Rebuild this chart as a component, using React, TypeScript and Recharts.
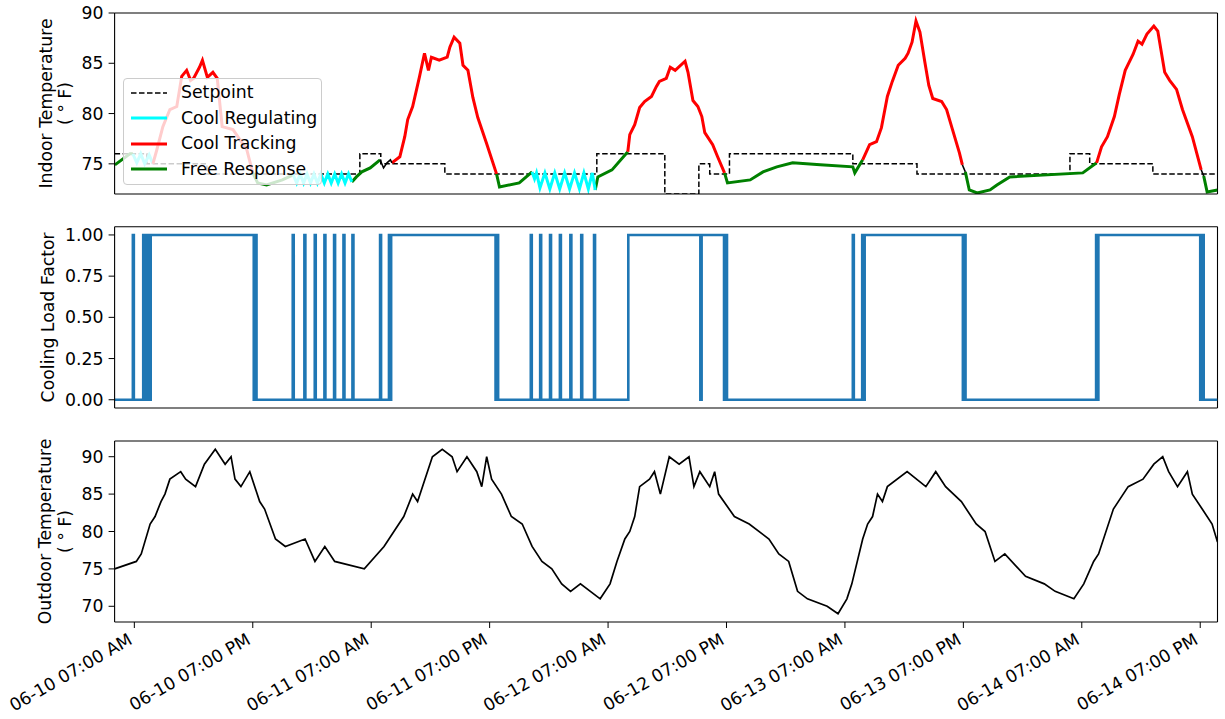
import { LineChart, Line, XAxis, YAxis, Legend, ReferenceLine } from "recharts";

const FONT = '"DejaVu Sans", sans-serif';
const FS = 17.3;

// hours since 06-10 00:00
const X_DOMAIN = [5, 116.75];
const X_TICKS = [7, 19, 31, 43, 55, 67, 79, 91, 103, 115];

const setpoint = [
  [5, 76], [8.27, 75], [14.35, 74], [29.85, 76], [31.97, 75], [38.46, 74], [53.86, 76],
  [60.75, 72], [64.2, 75], [65.3, 74], [67.3, 76], [79.8, 75], [86.3, 74], [101.8, 76],
  [103.8, 75], [110.2, 74], [116.75, 74],
];

// indoor temperature, split by mode
const free1 = [[5.03, 74.9], [6.55, 76.0], [6.85, 76.0]];
const free2 = [[19.0, 74.1], [19.5, 73.1], [20.4, 72.9], [22.0, 73.4], [23.1, 73.9]];
const free3 = [[29.04, 73.2], [29.5, 73.7], [30.05, 74.2], [30.9, 74.6], [31.9, 75.4]];
const free4 = [[43.7, 74.0], [44.0, 72.7], [46.0, 73.1], [47.3, 74.2]];
const free5 = [[53.7, 72.4], [53.96, 73.7], [55.4, 74.4], [57.0, 76.2]];
const free6 = [
  [66.8, 74.1], [67.1, 73.1], [69.4, 73.4], [70.7, 74.2], [72.1, 74.7], [73.7, 75.1],
  [76.5, 74.9], [79.8, 74.7], [80.0, 74.1], [80.8, 75.4],
];
const free7 = [
  [91.2, 74.2], [91.6, 72.4], [92.4, 72.1], [93.7, 72.4], [94.4, 72.9], [95.7, 73.7],
  [103.1, 74.1], [104.5, 75.1],
];
const free8 = [[115.35, 73.8], [115.7, 72.2], [116.75, 72.4]];

const reg1 = [[6.85, 76.0], [7.25, 75.1], [7.65, 76.0], [8.05, 75.0], [8.5, 75.9], [8.88, 75.0]];
const reg2 = [
  [23.1, 73.9], [23.45, 73.1], [23.8, 74.0], [24.15, 73.1], [24.5, 74.0], [24.85, 73.1],
  [25.2, 74.0], [25.55, 73.1], [25.9, 74.0], [26.25, 73.1], [26.6, 74.0], [26.95, 73.1],
  [27.3, 74.0], [27.65, 73.1], [28.0, 74.0], [28.35, 73.1], [28.7, 74.0], [29.04, 73.2],
];
const reg3 = [
  [47.3, 74.2], [47.55, 73.5], [47.75, 74.1], [48.1, 72.6], [48.6, 74.1], [49.1, 72.5],
  [49.6, 74.1], [50.1, 72.5], [50.6, 74.1], [51.1, 72.5], [51.6, 74.1], [52.1, 72.5],
  [52.55, 74.1], [53.0, 72.5], [53.4, 74.1], [53.7, 72.4],
];

const track1 = [
  [8.88, 75.0], [9.28, 76.4], [9.89, 78.7], [10.6, 80.4], [11.3, 80.7], [11.8, 83.7],
  [12.3, 84.3], [12.7, 83.3], [13.0, 83.5], [13.6, 84.6], [13.9, 85.3], [14.4, 83.6],
  [14.96, 84.1], [15.4, 83.5], [15.9, 78.7], [17.0, 78.4], [18.4, 76.4], [19.0, 74.1],
];
const track2 = [
  [33.1, 75.1], [33.9, 75.7], [34.4, 77.7], [34.7, 79.4], [35.2, 80.7], [35.6, 82.4],
  [35.9, 83.7], [36.4, 86.0], [36.8, 84.3], [37.1, 85.6], [37.9, 85.3], [38.7, 85.6],
  [38.97, 86.6], [39.4, 87.6], [39.98, 87.0], [40.3, 84.8], [40.8, 84.3], [41.3, 81.6],
  [41.8, 79.6], [42.7, 77.0], [43.7, 74.0],
];
const track3 = [
  [57.0, 76.2], [57.2, 77.9], [57.7, 78.9], [58.2, 80.6], [58.7, 81.2], [59.4, 81.7],
  [59.9, 82.7], [60.2, 83.2], [60.9, 83.5], [61.3, 84.6], [61.8, 84.3], [62.8, 85.2],
  [63.1, 84.1], [63.6, 81.3], [64.1, 80.7], [64.5, 79.7], [64.8, 78.1], [65.6, 76.9],
  [66.1, 75.7], [66.8, 74.1],
];
const track4 = [
  [80.8, 75.4], [81.5, 76.9], [82.2, 77.2], [82.7, 78.6], [83.3, 81.7], [83.8, 83.2],
  [84.4, 84.8], [85.1, 85.5], [85.4, 86.0], [85.8, 87.1], [86.2, 89.2], [86.6, 88.1],
  [87.1, 85.1], [87.5, 82.8], [87.9, 81.5], [88.8, 81.2], [89.3, 80.4], [89.9, 78.4],
  [90.6, 76.1], [90.9, 74.9],
];
const track5 = [
  [104.5, 75.1], [105.0, 76.7], [105.6, 77.7], [106.3, 79.7], [106.8, 81.9], [107.4, 84.3],
  [108.2, 85.9], [108.7, 87.2], [109.1, 86.9], [109.6, 87.9], [110.3, 88.7], [110.7, 88.2],
  [111.4, 84.1], [111.9, 83.3], [112.6, 82.4], [113.2, 80.4], [114.2, 77.7], [115.1, 74.4],
];

// short bits with no mode (drawn black)
const other1 = [[31.9, 75.4], [32.25, 74.6], [32.6, 75.1], [32.95, 75.4], [33.1, 75.1]];
const other2 = [[90.9, 74.9], [91.2, 74.2]];
const other3 = [[115.1, 74.4], [115.35, 73.8]];

const coolingLoad = [
  [5, 0], [6.85, 1], [6.95, 0], [7.9, 1], [8.0, 0], [8.15, 1], [8.25, 0], [8.5, 1], [8.58, 0], [8.66, 1],
  [19.1, 0], [19.18, 1], [19.38, 0],
  [23.05, 1], [23.15, 0], [24.23, 1], [24.33, 0], [25.28, 1], [25.38, 0], [26.26, 1], [26.36, 0],
  [27.24, 1], [27.34, 0], [28.19, 1], [28.29, 0], [29.1, 1], [29.2, 0],
  [31.9, 1], [32.0, 0], [32.8, 1], [32.9, 0], [33.02, 1],
  [43.6, 0], [43.7, 1], [43.86, 0],
  [47.17, 1], [47.27, 0], [48.12, 1], [48.22, 0], [49.12, 1], [49.22, 0], [50.12, 1], [50.22, 0],
  [51.18, 1], [51.28, 0], [52.28, 1], [52.38, 0], [53.58, 1], [53.68, 0],
  [57.05, 1], [64.35, 0], [64.48, 1], [66.75, 0], [66.85, 1], [67.05, 0],
  [79.8, 1], [79.9, 0], [80.75, 1], [80.85, 0], [81.0, 1],
  [90.95, 0], [91.08, 1], [91.22, 0],
  [104.45, 1], [104.55, 0], [104.68, 1],
  [115.0, 0], [115.12, 1], [115.35, 0], [116.75, 0],
];

const outdoor = [
  [5.0, 75], [7.2, 76], [7.7, 77], [8.6, 81], [9.1, 82], [9.7, 84], [10.1, 85], [10.6, 87],
  [11.7, 88], [12.2, 87], [13.2, 86], [14.1, 89], [15.2, 91], [16.2, 89], [16.8, 90], [17.2, 87],
  [17.8, 86], [18.7, 88], [19.7, 84], [20.2, 83], [21.3, 79], [22.3, 78], [24.3, 79], [25.3, 76],
  [26.3, 78], [27.3, 76], [30.3, 75], [32.3, 78], [33.3, 80], [34.3, 82], [35.2, 85], [35.7, 84],
  [37.2, 90], [38.2, 91], [39.2, 90], [39.7, 88], [40.7, 90], [41.7, 88], [42.2, 86], [42.7, 90],
  [43.2, 87], [44.2, 85], [45.2, 82], [46.3, 81], [47.3, 78], [48.3, 76], [49.3, 75], [50.3, 73],
  [51.2, 72], [52.2, 73], [54.2, 71], [55.2, 73], [55.9, 76], [56.7, 79], [57.2, 80], [57.7, 82],
  [58.2, 86], [59.2, 87], [59.7, 88], [60.3, 85], [61.2, 90], [62.2, 89], [63.2, 90], [63.7, 86],
  [64.3, 88], [65.3, 86], [65.8, 88], [66.2, 85], [67.8, 82], [69.3, 81], [71.3, 79], [72.3, 77],
  [73.3, 76], [74.2, 72], [75.2, 71], [77.2, 70], [78.3, 69], [79.2, 71], [79.7, 73], [80.8, 79],
  [81.3, 81], [81.8, 82], [82.3, 85], [82.8, 84], [83.3, 86], [85.3, 88], [87.2, 86], [88.2, 88],
  [89.2, 86], [90.8, 84], [92.3, 81], [93.2, 80], [94.2, 76], [95.2, 77], [97.3, 74], [99.2, 73],
  [100.3, 72], [102.2, 71], [103.2, 73], [104.2, 76], [104.7, 77], [106.2, 83], [107.7, 86],
  [109.2, 87], [110.3, 89], [111.2, 90], [111.8, 88], [112.7, 86], [113.7, 88], [114.2, 85],
  [115.2, 83], [116.2, 81], [116.75, 78.6],
];

const freeSegs = [free1, free2, free3, free4, free5, free6, free7, free8];
const regSegs = [reg1, reg2, reg3];
const trackSegs = [track1, track2, track3, track4, track5];
const otherSegs = [other1, other2, other3];

const legendItems = [
  { name: "Setpoint", color: "#000000", dash: "5.5 2.5", w: 1.5 },
  { name: "Cool Regulating", color: "#00ffff", dash: undefined, w: 3 },
  { name: "Cool Tracking", color: "#ff0000", dash: undefined, w: 3 },
  { name: "Free Response", color: "#008000", dash: undefined, w: 3 },
];

const toPts = (arr: number[][]) => arr.map(([h, v]) => ({ h, v }));

const pad = (n: number) => String(n).padStart(2, "0");
function fmtTime(h: number) {
  const day = 10 + Math.floor(h / 24);
  const hr = Math.round(h % 24);
  const h12 = hr % 12 === 0 ? 12 : hr % 12;
  return `06-${pad(day)} ${pad(h12)}:00 ${hr >= 12 ? "PM" : "AM"}`;
}

const tickStyle = { fontSize: FS, fill: "#000", fontFamily: FONT };
const axisLine = { stroke: "#000", strokeWidth: 1.1 };

function AxisTitle(props: any) {
  const { viewBox, lines, xs } = props;
  const cy = viewBox ? viewBox.y + viewBox.height / 2 : 100;
  return (
    <g>
      {lines.map((t: string, i: number) => (
        <text
          key={i}
          x={xs[i]}
          y={cy}
          transform={`rotate(-90, ${xs[i]}, ${cy})`}
          textAnchor="middle"
          dominantBaseline="central"
          fontSize={FS}
          fontFamily={FONT}
          fill="#000"
        >
          {t}
        </text>
      ))}
    </g>
  );
}

function TimeTick(props: any) {
  const { x, payload } = props;
  const y = 643 - 428;
  return (
    <text
      x={x - 1}
      y={y}
      transform={`rotate(-30, ${x - 1}, ${y})`}
      textAnchor="end"
      fontSize={FS}
      fontFamily={FONT}
      fill="#000"
    >
      {fmtTime(payload.value)}
    </text>
  );
}

function LegendBox() {
  return (
    <div
      style={{
        width: 199,
        height: 107,
        boxSizing: "border-box",
        background: "rgba(255,255,255,0.8)",
        border: "1px solid #cccccc",
        borderRadius: 4,
        paddingTop: 1,
        fontFamily: FONT,
        fontSize: FS,
        color: "#000",
      }}
    >
      {legendItems.map((it) => (
        <div key={it.name} style={{ display: "flex", alignItems: "center", height: 25.5 }}>
          <svg width={57} height={10} style={{ flex: "none" }}>
            <line x1={7} x2={43} y1={5} y2={5} stroke={it.color} strokeWidth={it.w} strokeDasharray={it.dash} />
          </svg>
          <span style={{ lineHeight: 1 }}>{it.name}</span>
        </div>
      ))}
    </div>
  );
}

// top and right spines of a panel
function frame(yTop: number) {
  return [
    <ReferenceLine key="ft" y={yTop} stroke="#000" strokeWidth={1.1} ifOverflow="visible" />,
    <ReferenceLine key="fr" x={X_DOMAIN[1]} stroke="#000" strokeWidth={1.1} ifOverflow="visible" />,
  ];
}

const MARGIN_L = 54.6;
const MARGIN_R = 7.5;

export default function App() {
  return (
    <div style={{ position: "absolute", left: 0, top: 0, width: 1225, height: 719, background: "#fff", fontFamily: FONT }}>
      {/* Indoor temperature */}
      <div style={{ position: "absolute", left: 0, top: 0 }}>
        <LineChart width={1225} height={201} margin={{ top: 13, right: MARGIN_R, bottom: 0, left: MARGIN_L }}>
          <XAxis
            dataKey="h"
            type="number"
            domain={X_DOMAIN}
            ticks={X_TICKS}
            interval={0}
            allowDataOverflow
            height={7}
            tick={false}
            tickSize={6}
            tickLine={{ stroke: "#000" }}
            axisLine={axisLine}
          />
          <YAxis
            type="number"
            domain={[72, 90]}
            ticks={[75, 80, 85, 90]}
            allowDataOverflow
            width={60}
            tickSize={6}
            tickMargin={5}
            tick={tickStyle}
            tickLine={{ stroke: "#000" }}
            axisLine={axisLine}
            label={(p: any) => <AxisTitle {...p} lines={["Indoor Temperature", "( ° F)"]} xs={[45.5, 65]} />}
          />
          {frame(90)}
          <Line
            data={toPts(setpoint)}
            dataKey="v"
            type="stepAfter"
            stroke="#000"
            strokeWidth={1.5}
            strokeDasharray="5.5 2.5"
            dot={false}
            isAnimationActive={false}
          />
          {freeSegs.map((s, i) => (
            <Line key={"f" + i} data={toPts(s)} dataKey="v" type="linear" stroke="#008000" strokeWidth={3} dot={false} isAnimationActive={false} />
          ))}
          {regSegs.map((s, i) => (
            <Line key={"r" + i} data={toPts(s)} dataKey="v" type="linear" stroke="#00ffff" strokeWidth={3} dot={false} isAnimationActive={false} />
          ))}
          {trackSegs.map((s, i) => (
            <Line key={"t" + i} data={toPts(s)} dataKey="v" type="linear" stroke="#ff0000" strokeWidth={3} dot={false} isAnimationActive={false} />
          ))}
          {otherSegs.map((s, i) => (
            <Line key={"o" + i} data={toPts(s)} dataKey="v" type="linear" stroke="#000" strokeWidth={1.5} dot={false} isAnimationActive={false} />
          ))}
          <Legend
            layout="vertical"
            align="center"
            verticalAlign="middle"
            wrapperStyle={{ left: 123, top: 78, width: 199, height: 107 }}
            content={() => <LegendBox />}
          />
        </LineChart>
      </div>

      {/* Cooling load factor */}
      <div style={{ position: "absolute", left: 0, top: 214 }}>
        <LineChart width={1225} height={201} margin={{ top: 12.7, right: MARGIN_R, bottom: 0, left: MARGIN_L }}>
          <XAxis
            dataKey="h"
            type="number"
            domain={X_DOMAIN}
            ticks={X_TICKS}
            interval={0}
            allowDataOverflow
            height={7}
            tick={false}
            tickSize={6}
            tickLine={{ stroke: "#000" }}
            axisLine={axisLine}
          />
          <YAxis
            type="number"
            domain={[-0.05, 1.05]}
            ticks={[0, 0.25, 0.5, 0.75, 1]}
            interval={0}
            allowDataOverflow
            width={60}
            tickSize={6}
            tickMargin={5}
            tick={tickStyle}
            tickFormatter={(v: number) => v.toFixed(2)}
            tickLine={{ stroke: "#000" }}
            axisLine={axisLine}
            label={(p: any) => <AxisTitle {...p} lines={["Cooling Load Factor"]} xs={[48]} />}
          />
          {frame(1.05)}
          <Line
            data={toPts(coolingLoad)}
            dataKey="v"
            type="stepAfter"
            stroke="#1f77b4"
            strokeWidth={2.6}
            dot={false}
            isAnimationActive={false}
          />
        </LineChart>
      </div>

      {/* Outdoor temperature */}
      <div style={{ position: "absolute", left: 0, top: 428 }}>
        <LineChart width={1225} height={291} margin={{ top: 13, right: MARGIN_R, bottom: 0, left: MARGIN_L }}>
          <XAxis
            dataKey="h"
            type="number"
            domain={X_DOMAIN}
            ticks={X_TICKS}
            interval={0}
            allowDataOverflow
            height={97}
            tickSize={6}
            tickLine={{ stroke: "#000" }}
            axisLine={axisLine}
            tick={<TimeTick />}
          />
          <YAxis
            type="number"
            domain={[67.9, 92.1]}
            ticks={[70, 75, 80, 85, 90]}
            interval={0}
            allowDataOverflow
            width={60}
            tickSize={6}
            tickMargin={5}
            tick={tickStyle}
            tickLine={{ stroke: "#000" }}
            axisLine={axisLine}
            label={(p: any) => <AxisTitle {...p} lines={["Outdoor Temperature", "( ° F)"]} xs={[45, 65]} />}
          />
          {frame(92.1)}
          <Line
            data={toPts(outdoor)}
            dataKey="v"
            type="linear"
            stroke="#000"
            strokeWidth={1.7}
            dot={false}
            isAnimationActive={false}
          />
        </LineChart>
      </div>
    </div>
  );
}
